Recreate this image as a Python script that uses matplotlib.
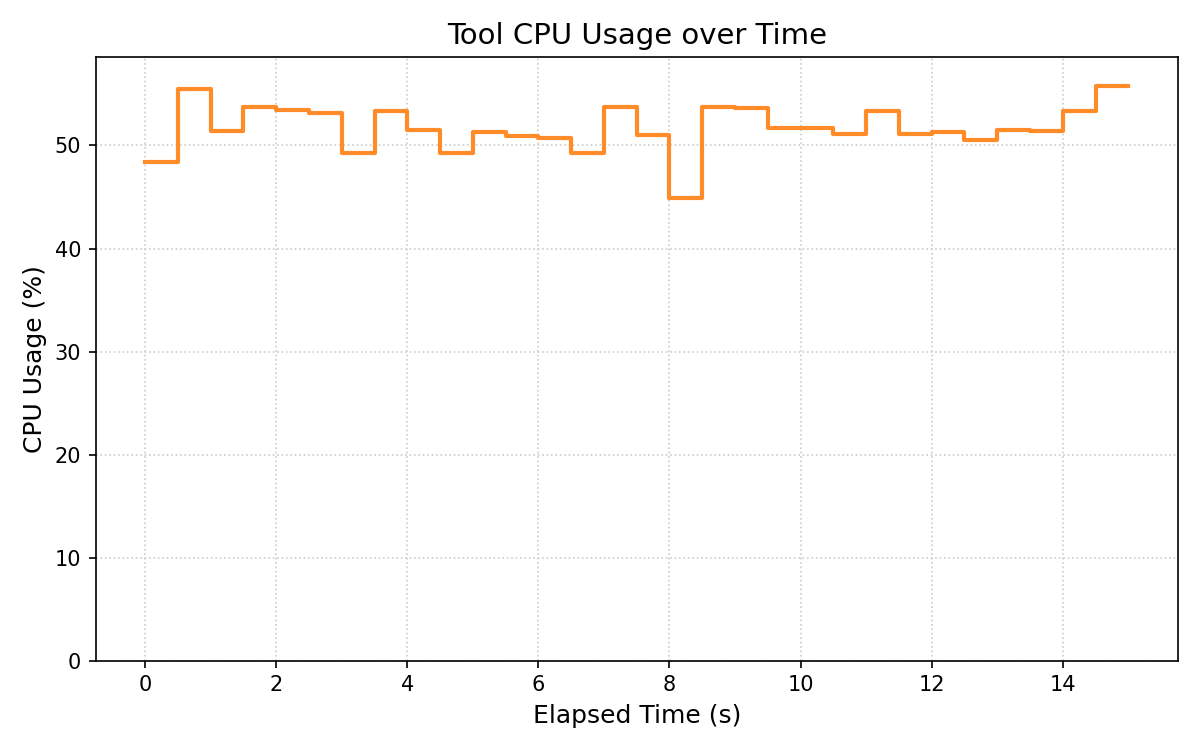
import matplotlib
matplotlib.use('Agg')
import matplotlib.pyplot as plt
import numpy as np

# elapsed time (s), sampled every 0.5 s
elapsed = [i * 0.5 for i in range(31)]
cpu_usage = [48.4, 55.5, 51.4, 53.7, 53.4, 53.2, 49.3, 53.3, 51.5, 49.3,
             51.3, 50.9, 50.7, 49.3, 53.7, 51.0, 44.9, 53.7, 53.6, 51.7,
             51.7, 51.1, 53.3, 51.1, 51.3, 50.5, 51.5, 51.4, 53.3, 55.8,
             55.8]

fig, ax = plt.subplots(figsize=(8, 5), dpi=150)
ax.step(elapsed, cpu_usage, where='post', color='#ff8c28', linewidth=2)
ax.set_ylim(0, max(cpu_usage) * 1.05)
ax.set_title('Tool CPU Usage over Time', fontsize=14)
ax.set_xlabel('Elapsed Time (s)', fontsize=12)
ax.set_ylabel('CPU Usage (%)', fontsize=12)
ax.grid(True, linestyle=':', color='#cccccc', linewidth=0.8)
fig.tight_layout()
fig.savefig('out.png')
